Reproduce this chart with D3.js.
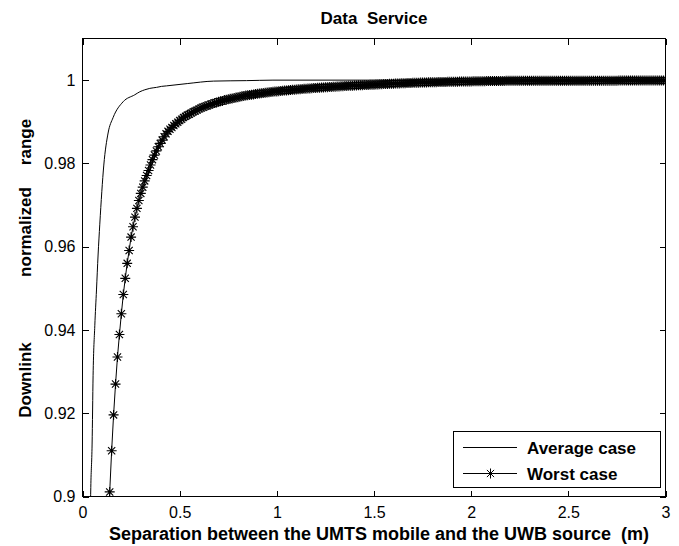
<!DOCTYPE html>
<html><head><meta charset="utf-8">
<script src="https://cdn.jsdelivr.net/npm/d3@7"></script>
<style>body{margin:0;background:#fff}svg{display:block}</style>
</head><body>
<svg id="chart" width="679" height="546"></svg>
<script>
// ---------- data ----------
const titleText = "Data  Service";
const xLabelText = "Separation between the UMTS mobile and the UWB source  (m)";
const yLabelWords = ["Downlink", "normalized", "range"];
const xTickValues = [0, 0.5, 1, 1.5, 2, 2.5, 3];
const yTickValues = [0.9, 0.92, 0.94, 0.96, 0.98, 1];
const seriesNames = ["Average case", "Worst case"];

// Average case (thin line)
const avgX = [0.040, 0.0427, 0.0494, 0.0545, 0.0633, 0.0720, 0.0802, 0.0890, 0.1096, 0.1317,
              0.1574, 0.2088, 0.269, 0.2948, 0.3205, 0.3462, 0.3807, 0.4064, 0.4321, 0.539,
              0.675, 0.844, 0.98, 3.0];
const avgY = [0.8950, 0.9022, 0.9126, 0.9290, 0.9410, 0.9496, 0.9580, 0.9654, 0.9796, 0.9873,
              0.9910, 0.9948, 0.99648, 0.9972, 0.99768, 0.99802, 0.99826, 0.99850, 0.99862, 0.99917,
              0.99977, 0.99988, 1.0000, 1.0000];

// Worst case (line with * markers), sampled every 0.01 m starting at 0.13 m
const worstStart = 0.13;
const worstStep = 0.01;
const worstY = [
  0.8885,0.9011,0.9110,0.9196,0.9270,0.9335,0.9389,
  0.9439,0.9485,0.9524,0.9560,0.9591,0.9623,0.9648,0.9671,0.9692,0.9711,
  0.9728,0.9743,0.9758,0.9771,0.9783,0.9796,0.9809,0.9820,0.9830,0.9840,
  0.9848,0.9856,0.9864,0.9871,0.9877,0.9882,0.9886,0.9891,0.9895,0.9899,
  0.9903,0.9906,0.9910,0.9913,0.9916,0.9918,0.9921,0.9924,0.9926,0.9928,
  0.9931,0.9933,0.9935,0.9937,0.9938,0.9940,0.9942,0.9943,0.9945,0.9946,
  0.9948,0.9949,0.9950,0.9952,0.9953,0.9954,0.9955,0.9956,0.9957,0.9958,
  0.9959,0.9960,0.9961,0.9962,0.9963,0.99635,0.99643,0.99651,0.99658,0.99665,
  0.99672,0.99679,0.99685,0.99691,0.99697,0.99703,0.99709,0.99714,0.99720,0.99725,
  0.99730,0.99735,0.99740,0.99744,0.99749,0.99753,0.99758,0.99762,0.99767,0.99771,
  0.99775,0.99779,0.99783,0.99787,0.99791,0.99795,0.99798,0.99802,0.99806,0.99809,
  0.99813,0.99816,0.99819,0.99823,0.99826,0.99829,0.99832,0.99835,0.99838,0.99841,
  0.99844,0.99847,0.99850,0.99853,0.99855,0.99858,0.99861,0.99863,0.99866,0.99868,
  0.99870,0.99873,0.99875,0.99877,0.99880,0.99882,0.99884,0.99886,0.99888,0.99890,
  0.99892,0.99895,0.99897,0.99900,0.99902,0.99905,0.99907,0.99910,0.99912,0.99914,
  0.99916,0.99918,0.99920,0.99922,0.99924,0.99926,0.99928,0.99930,0.99932,0.99933,
  0.99935,0.99937,0.99938,0.99940,0.99941,0.99943,0.99944,0.99945,0.99947,0.99948,
  0.99949,0.99951,0.99952,0.99953,0.99954,0.99955,0.99957,0.99958,0.99959,0.99960,
  0.99961,0.99962,0.99963,0.99964,0.99965,0.99966,0.99966,0.99967,0.99968,0.99969,
  0.99970,0.99971,0.99972,0.99973,0.99974,0.99974,0.99975,0.99976,0.99977,0.99977,
  0.99978,0.99979,0.99979,0.99980,0.99981,0.99981,0.99982,0.99982,0.99983,0.99983,
  0.99984,0.99984,0.99984,0.99984,0.99984,0.99984,0.99985,0.99985,0.99985,0.99985,
  0.99985,0.99985,0.99985,0.99985,0.99985,0.99985,0.99986,0.99986,0.99986,0.99986,
  0.99986,0.99986,0.99986,0.99986,0.99986,0.99986,0.99987,0.99987,0.99987,0.99987,
  0.99987,0.99987,0.99987,0.99987,0.99987,0.99987,0.99987,0.99987,0.99987,0.99987,
  0.99987,0.99988,0.99988,0.99988,0.99988,0.99988,0.99988,0.99988,0.99988,0.99988,
  0.99988,0.99988,0.99988,0.99988,0.99988,0.99988,0.99989,0.99989,0.99989,0.99989,
  0.99989,0.99989,0.99989,0.99989,0.99989,0.99989,0.99989,0.99989,0.99989,0.99989,
  0.99989,0.99989,0.99989,0.99989,0.99989,0.99989,0.99989,0.99989,0.99989,0.99989,
  0.99989
];

// ---------- drawing ----------
const svg = d3.select("#chart");
const L = 82.5, R = 665.5, T = 38.5, B = 496.5;
const x = d3.scaleLinear().domain([0, 3]).range([L, R]);
const y = d3.scaleLinear().domain([0.9, 1.01]).range([B, T]);
const FONT = "'Liberation Sans', Arial, Helvetica, sans-serif";

svg.append("rect").attr("width", 679).attr("height", 546).attr("fill", "#fff");

const avgData = avgX.map((v, i) => [v, avgY[i]]);
const worstData = worstY.map((v, i) => [+(worstStart + i * worstStep).toFixed(2), v]);

svg.append("defs").append("clipPath").attr("id", "plotclip")
  .append("rect").attr("x", L).attr("y", T).attr("width", R - L).attr("height", B - T);

const plot = svg.append("g").attr("clip-path", "url(#plotclip)");
const smoothLine = d3.line().x(d => x(d[0])).y(d => y(d[1])).curve(d3.curveMonotoneX);
const line = d3.line().x(d => x(d[0])).y(d => y(d[1]));

plot.append("path").datum(avgData).attr("d", smoothLine)
  .attr("fill", "none").attr("stroke", "#000").attr("stroke-width", 1);
plot.append("path").datum(worstData).attr("d", line)
  .attr("fill", "none").attr("stroke", "#000").attr("stroke-width", 1);

const starPath = "M-5,0L5,0M0,-5L0,5M-3.6,-3.6L3.6,3.6M-3.6,3.6L3.6,-3.6";
plot.append("g").selectAll("path").data(worstData).join("path")
  .attr("transform", d => `translate(${x(d[0])},${y(d[1])})`)
  .attr("d", starPath).attr("fill", "none").attr("stroke", "#000").attr("stroke-width", 1.1);

// axes (box with inward ticks on all sides)
const tl = 6;
const axB = d3.axisBottom(x).tickValues(xTickValues).tickSize(-tl).tickPadding(10).tickFormat(d3.format("~g"));
const axT = d3.axisTop(x).tickValues(xTickValues).tickSize(-tl).tickFormat("");
const axL = d3.axisLeft(y).tickValues(yTickValues).tickSize(-tl).tickPadding(7).tickFormat(d3.format("~g"));
const axR = d3.axisRight(y).tickValues(yTickValues).tickSize(-tl).tickFormat("");

function styleAxis(g) {
  g.select(".domain").remove();
  g.selectAll("line").attr("stroke", "#000").attr("shape-rendering", "crispEdges");
  g.selectAll("text").attr("font-family", FONT).attr("font-size", 16).attr("fill", "#000");
}
svg.append("g").attr("transform", `translate(0,${B})`).call(axB).call(styleAxis);
svg.append("g").attr("transform", `translate(0,${T})`).call(axT).call(styleAxis);
svg.append("g").attr("transform", `translate(${L},0)`).call(axL).call(styleAxis);
svg.append("g").attr("transform", `translate(${R},0)`).call(axR).call(styleAxis);

svg.append("rect").attr("x", L).attr("y", T).attr("width", R - L).attr("height", B - T)
  .attr("fill", "none").attr("stroke", "#000").attr("stroke-width", 1).attr("shape-rendering", "crispEdges");

// title and labels
svg.append("text").attr("x", (L + R) / 2).attr("y", 24).attr("text-anchor", "middle")
  .attr("font-family", FONT).attr("font-weight", "bold").attr("font-size", 17)
  .style("white-space", "pre").text(titleText);
svg.append("text").attr("x", 379).attr("y", 540).attr("text-anchor", "middle")
  .attr("font-family", FONT).attr("font-weight", "bold").attr("font-size", 18)
  .style("white-space", "pre").text(xLabelText);

const yWordCenters = [380, 232, 142];
yLabelWords.forEach((w, i) => {
  svg.append("text").attr("transform", `translate(31,${yWordCenters[i]}) rotate(-90)`)
    .attr("text-anchor", "middle").attr("font-family", FONT).attr("font-weight", "bold")
    .attr("font-size", 17).text(w);
});

// legend
const lg = svg.append("g");
lg.append("rect").attr("x", 453.5).attr("y", 431.5).attr("width", 207).attr("height", 56)
  .attr("fill", "#fff").attr("stroke", "#000").attr("shape-rendering", "crispEdges");
const rows = [447.5, 473.5];
seriesNames.forEach((name, i) => {
  lg.append("line").attr("x1", 463).attr("x2", 517).attr("y1", rows[i]).attr("y2", rows[i])
    .attr("stroke", "#000").attr("shape-rendering", "crispEdges");
  if (i === 1) lg.append("path").attr("transform", `translate(490.5,${rows[i]})`)
    .attr("d", starPath).attr("fill", "none").attr("stroke", "#000");
  lg.append("text").attr("x", 527).attr("y", rows[i] + 6).attr("font-family", FONT)
    .attr("font-weight", "bold").attr("font-size", 17).text(name);
});
</script>
</body></html>
